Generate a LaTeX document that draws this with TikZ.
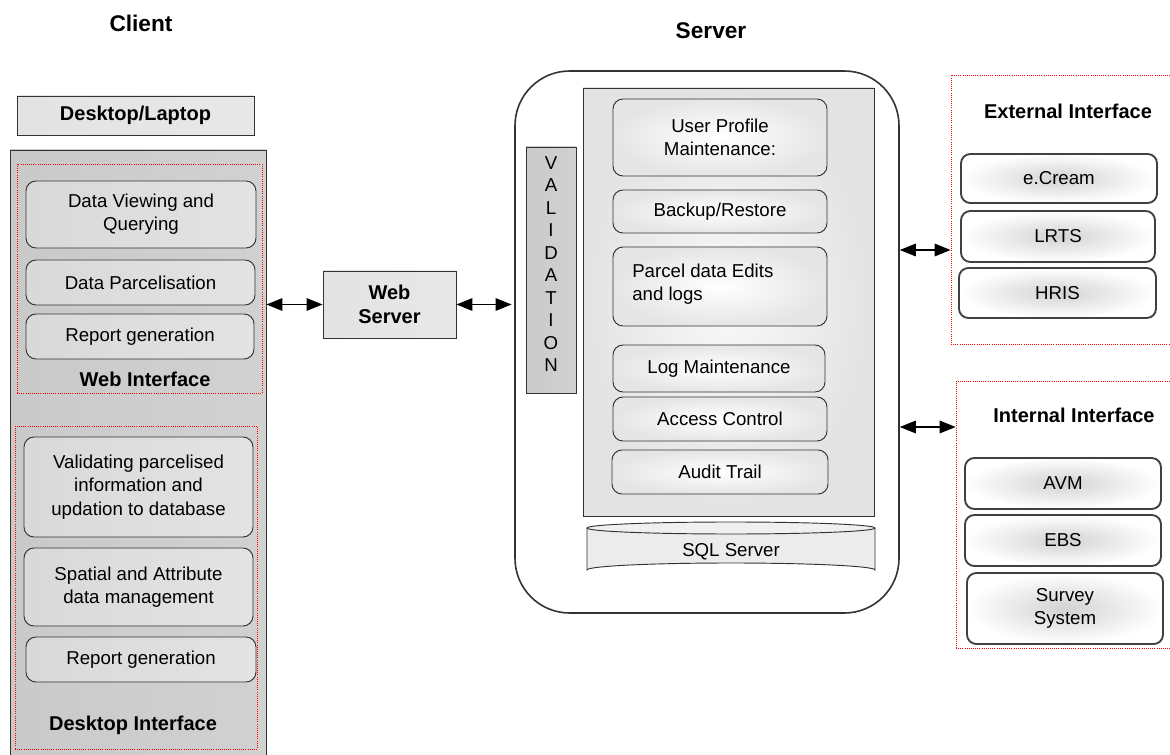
\documentclass[tikz,border=0pt]{standalone}
\usepackage{fontspec}
\setmainfont{Liberation Sans}
\usetikzlibrary{arrows.meta,fit}

\begin{document}
\begin{tikzpicture}[x=0.75pt,y=-0.75pt,
  txt/.style={font=\fontsize{14}{17.5}\selectfont,align=center,inner sep=0pt},
  btxt/.style={font=\bfseries\fontsize{15}{18}\selectfont,align=center,inner sep=0pt},
  head/.style={font=\bfseries\fontsize{17}{20}\selectfont},
  frame/.style={draw=black!80,line width=0.7pt,inner sep=0pt},
  cbox/.style={frame,rounded corners=7.5pt,left color=gray!30,middle color=white,right color=gray!22},
  sbox/.style={frame,rounded corners=7.5pt,inner color=white,outer color=gray!20},
  ibox/.style={draw=black!75,line width=1.4pt,inner sep=0pt,rounded corners=7pt,inner color=gray!35,outer color=white},
  plainbox/.style={frame,left color=gray!22,middle color=white,right color=gray!18},
  group/.style={draw=red,densely dotted,line width=0.6pt,inner sep=0pt},
  biarrow/.style={line width=0.8pt,{Triangle[length=12pt,width=9.5pt]}-{Triangle[length=12pt,width=9.5pt]}}
]
\useasboundingbox (0,0) rectangle (1170,755);
\clip (0,0) rectangle (1170,755);

% ---------------- client side ----------------
\node[head] (client) at (141,23) {Client};
\node[plainbox,fit={(17,96)(254,135)}] (laptop) {};
\node[btxt] (laptoptxt) at (laptop) {Desktop/Laptop};

\node[frame,left color=gray!42,middle color=gray!10,right color=gray!36,fit={(10,150)(266,770)}] (panel) {};

\node[group,fit={(17,164)(262,393)}] (webif) {};
\node[cbox,fit={(26,181)(256,248)}] (dv) {};
\node[txt] (dvtxt) at (dv) {Data Viewing and\\Querying};
\node[cbox,fit={(26,260)(255,305)}] (dp) {};
\node[txt] (dptxt) at (dp) {Data Parcelisation};
\node[cbox,fit={(26,314)(254,359)}] (rg1) {};
\node[txt] (rg1txt) at (rg1) {Report generation};
\node[btxt] (webiflbl) at (145,379) {Web Interface};

\node[group,fit={(15,426)(257,749)}] (deskif) {};
\node[cbox,fit={(24,437)(253,537)}] (val) {};
\node[txt] (valtxt) at (val) {Validating parcelised\\information and\\updation to database};
\node[cbox,fit={(24,548)(253,626)}] (spat) {};
\node[txt] (spattxt) at (spat) {Spatial and Attribute\\data management};
\node[cbox,fit={(26,637)(256,682)}] (rg2) {};
\node[txt] (rg2txt) at (rg2) {Report generation};
\node[btxt] (deskiflbl) at (133,725) {Desktop Interface};

% ---------------- web server ----------------
\node[plainbox,fit={(323,271)(456,338)}] (ws) {};
\node[btxt] (wstxt) at (ws) {Web\\Server};

% ---------------- server ----------------
\node[head] (serverlbl) at (711,31) {Server};
\node[draw=black!80,line width=1.2pt,rounded corners=41pt,fill=white,inner sep=0pt,fit={(515,71)(899,613)}] (server) {};

\node[frame,left color=gray!42,middle color=gray!15,right color=gray!36,fit={(526,147)(576,393)}] (valid) {};
\node[font=\fontsize{14}{16.9}\selectfont,align=center,inner sep=0pt] (validtxt) at (551,264)
  {V\\A\\L\\I\\D\\A\\T\\I\\O\\N};

\node[frame,inner color=gray!5,outer color=gray!22,fit={(583,88)(874,516)}] (core) {};
\node[sbox,fit={(613,99)(827,176)}] (upm) {};
\node[txt] (upmtxt) at (upm) {User Profile\\Maintenance:};
\node[sbox,fit={(613,190)(827,233)}] (bak) {};
\node[txt] (baktxt) at (bak) {Backup/Restore};
\node[sbox,fit={(613,247)(827,326)}] (ped) {};
\node[txt,align=left,anchor=west] (pedtxt) at (632,284) {Parcel data Edits\\and logs};
\node[sbox,fit={(613,345)(825,392)}] (logm) {};
\node[txt] (logmtxt) at (logm) {Log Maintenance};
\node[sbox,fit={(613,397)(827,441)}] (acc) {};
\node[txt] (acctxt) at (acc) {Access Control};
\node[sbox,fit={(612,450)(828,494)}] (aud) {};
\node[txt] (audtxt) at (aud) {Audit Trail};

% database cylinder
\path[draw=black!80,line width=0.7pt,fill=gray!15]
  (587,528) -- (587,570) arc[start angle=180,end angle=360,x radius=144,y radius=7]
  -- (875,528);
\draw[black!80,line width=0.7pt,fill=gray!12] (731,528) ellipse[x radius=144,y radius=6];
\node[txt] (sql) at (731,552) {SQL Server};

% ---------------- external / internal interfaces ----------------
\node[group,fit={(951,75)(1180,344)}] (ext) {};
\node[btxt] (extlbl) at (1068,111) {External Interface};
\node[ibox,fit={(961,154)(1157,203)}] (ecream) {};
\node[txt] (ecreamtxt) at (ecream) {e.Cream};
\node[ibox,fit={(961,211)(1155,262)}] (lrts) {};
\node[txt] (lrtstxt) at (lrts) {LRTS};
\node[ibox,fit={(959,268)(1156,318)}] (hris) {};
\node[txt] (hristxt) at (hris) {HRIS};

\node[group,fit={(956,381)(1180,648)}] (int) {};
\node[btxt] (intlbl) at (1074,415) {Internal Interface};
\node[ibox,fit={(965,458)(1161,509)}] (avm) {};
\node[txt] (avmtxt) at (avm) {AVM};
\node[ibox,fit={(965,515)(1161,566)}] (ebs) {};
\node[txt] (ebstxt) at (ebs) {EBS};
\node[ibox,fit={(967,573)(1163,644)}] (survey) {};
\node[txt] (surveytxt) at (survey) {Survey\\System};

% ---------------- connectors ----------------
\coordinate (extlvl) at (0,250);
\coordinate (intlvl) at (0,427);
\draw[biarrow] (panel.east |- ws.west) -- (ws.west);
\draw[biarrow] (ws.east) -- ([xshift=-2]server.west |- ws.east);
\draw[biarrow] (server.east |- extlvl) -- (ext.west |- extlvl);
\draw[biarrow] (server.east |- intlvl) -- (int.west |- intlvl);
\end{tikzpicture}
\end{document}
